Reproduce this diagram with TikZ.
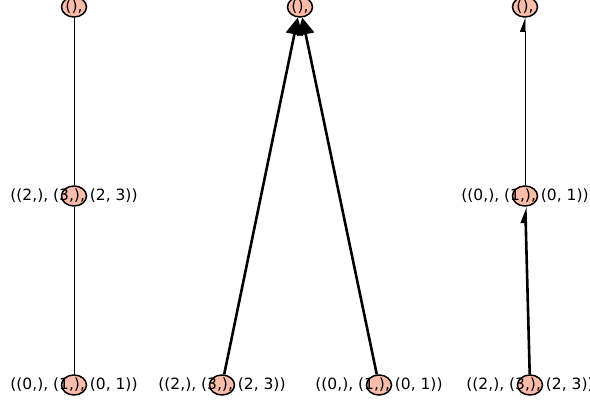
\documentclass[tikz,border=0pt]{standalone}
\usepackage{fontspec}
\setmainfont{DejaVu Sans}
\usetikzlibrary{shapes.geometric,arrows.meta}
\definecolor{nodefill}{RGB}{252,188,170}
\tikzset{
  vtx/.style={ellipse, draw=black, line width=1.5pt, fill=nodefill,
    minimum width=25pt, minimum height=20pt, inner sep=0pt,
    label={[font=\fontsize{15.5}{17}\selectfont, inner sep=0pt]center:#1}},
  thinedge/.style={draw=black, line width=0.8pt},
  thickedge/.style={draw=black, line width=2.6pt},
  bighead/.style={-{Triangle[length=17pt,width=17pt]}},
  halfhead/.style={-{Triangle[harpoon,length=13pt,width=10pt]}}
}
\begin{document}
\begin{tikzpicture}[x=1pt,y=1pt]
\useasboundingbox (0,0) rectangle (590,401);
% graph 1
\node[vtx={(),}] (a1) at (74,394) {};
\node[vtx={((2,), (3,), (2, 3))}] (a2) at (74,205) {};
\node[vtx={((0,), (1,), (0, 1))}] (a3) at (74,16) {};
% graph 2
\node[vtx={(),}] (b1) at (300,394) {};
\node[vtx={((2,), (3,), (2, 3))}] (b2) at (222,16) {};
\node[vtx={((0,), (1,), (0, 1))}] (b3) at (379,16) {};
% graph 3
\node[vtx={(),}] (c1) at (525,394) {};
\node[vtx={((0,), (1,), (0, 1))}] (c2) at (525,205) {};
\node[vtx={((2,), (3,), (2, 3))}] (c3) at (530,16) {};
% edges
\draw[thinedge] (a1) -- (a2);
\draw[thinedge] (a2) -- (a3);
\draw[thickedge,bighead] (b2) -- (b1);
\draw[thickedge,bighead] (b3) -- (b1);
\draw[thinedge,halfhead] (c2) -- (c1);
\draw[thickedge,halfhead] (c3) -- (c2);
\end{tikzpicture}
\end{document}
